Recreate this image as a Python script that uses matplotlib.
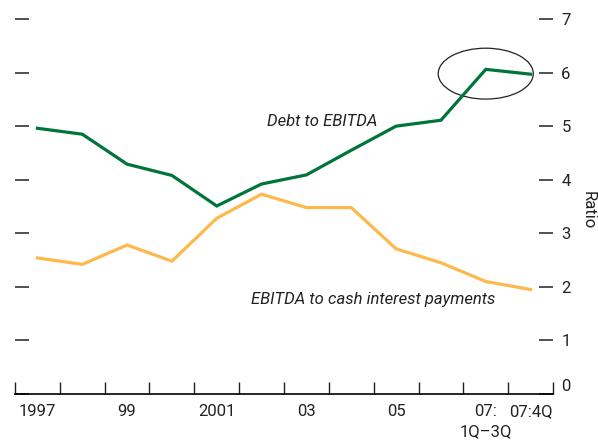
import matplotlib
matplotlib.use("Agg")
import matplotlib.pyplot as plt
from matplotlib.patches import Ellipse
import numpy as np

plt.rcParams['font.family'] = ['Roboto', 'DejaVu Sans']

categories = ['1997', '1998', '1999', '2000', '2001', '2002', '2003', '2004',
              '2005', '2006', '07:1Q-3Q', '07:4Q']
tick_labels = ['1997', '', '99', '', '2001', '', '03', '', '05', '', '07:\n1Q\u20133Q', '07:4Q']
debt_to_ebitda = [4.96, 4.85, 4.29, 4.08, 3.51, 3.92, 4.09, 4.55, 5.00, 5.11, 6.06, 5.97]
ebitda_to_interest = [2.54, 2.42, 2.78, 2.48, 3.28, 3.73, 3.48, 3.48, 2.71, 2.45, 2.10, 1.95]
y_ticks = [0, 1, 2, 3, 4, 5, 6, 7]

W, H = 598, 445
fig = plt.figure(figsize=(W / 100, H / 100), dpi=100)
ax = fig.add_axes([15 / W, (H - 394) / H, (553 - 15) / W, (394 - 19) / H])

x = np.arange(len(categories))
ax.plot(x, debt_to_ebitda, color='#00753a', lw=2.3, solid_joinstyle='miter')
ax.plot(x, ebitda_to_interest, color='#fdb94c', lw=2.3, solid_joinstyle='miter')

ax.set_xlim(-0.5, len(categories) - 0.5)
ax.set_ylim(0, 7)

for s in ['left', 'right', 'top']:
    ax.spines[s].set_visible(False)
ax.spines['bottom'].set_linewidth(1.2)

# x ticks: boundaries (major, marks only), centers (minor, labels only)
ax.set_xticks(np.arange(-0.5, len(categories)), minor=False)
ax.set_xticklabels([])
ax.set_xticks(x, minor=True)
ax.set_xticklabels(tick_labels, minor=True, fontsize=12, linespacing=1.45)
ax.tick_params(axis='x', which='major', direction='in', length=9, width=1.0, color='#222222')
ax.tick_params(axis='x', which='minor', length=0, pad=7, labelcolor='#222222')

ax.set_yticks(y_ticks)
ax.set_yticklabels([str(v) for v in y_ticks], fontsize=12)
ax.tick_params(axis='y', which='major', direction='in', length=10, width=1.1,
               color='#222222', left=True, right=True, labelleft=False,
               labelright=True, pad=6, labelcolor='#222222')
for lab in ax.get_yticklabels(which='major'):
    pass
ax.yaxis.get_majorticklabels()
for t in ax.yaxis.get_major_ticks()[:1]:
    t.label2.set_va('bottom')

ax.text(1.065, 0.49, 'Ratio', transform=ax.transAxes, rotation=-90,
        ha='center', va='center', fontsize=12, color='#222222')

ax.text(6.35, 5.09, 'Debt to EBITDA', style='italic', fontsize=12,
        ha='center', va='center', color='#222222')
ax.text(7.5, 1.77, 'EBITDA to cash interest payments', style='italic', fontsize=12,
        ha='center', va='center', color='#222222')

ax.add_patch(Ellipse((10.0, 5.98), 2.12, 0.95, fill=False, ec='#222222', lw=0.9,
                     clip_on=False))

fig.savefig('out.png', dpi=100)
